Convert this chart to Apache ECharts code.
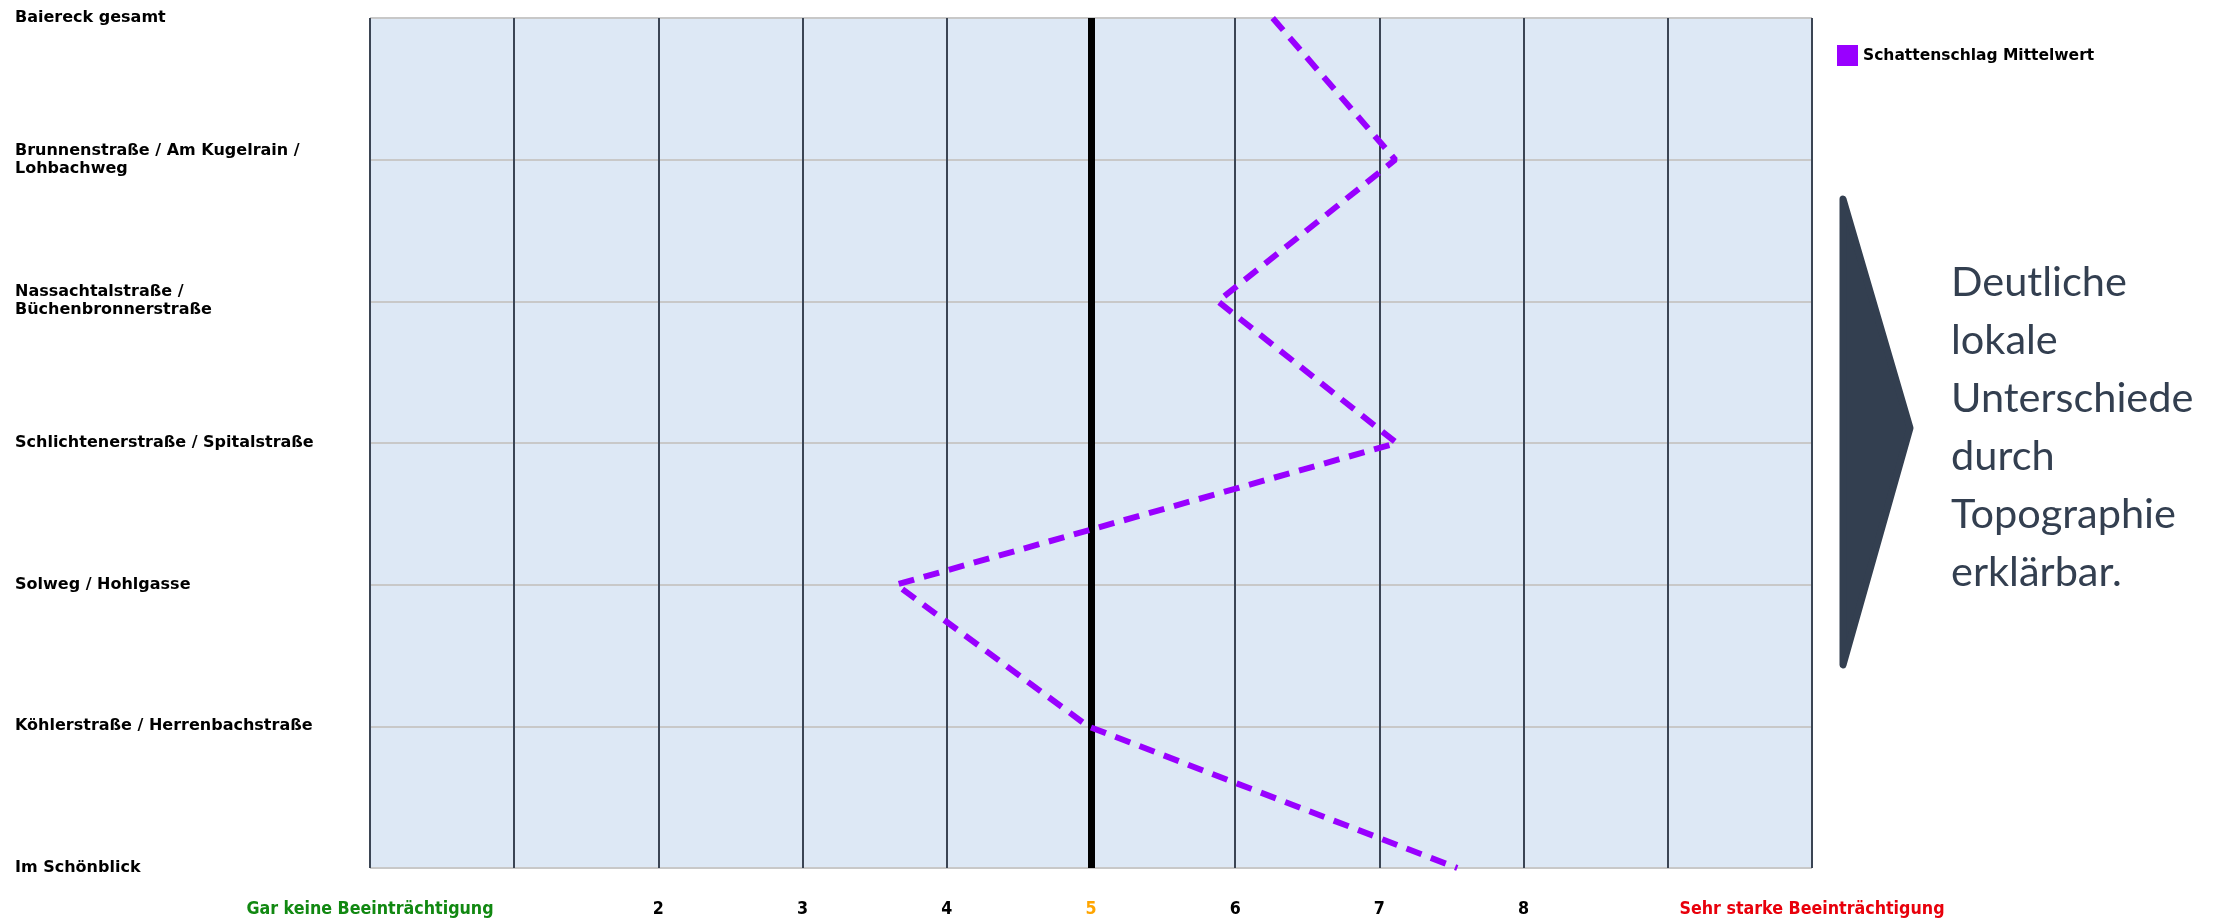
<!DOCTYPE html>
<html>
<head>
<meta charset="utf-8">
<script src="https://cdn.jsdelivr.net/npm/echarts@6/dist/echarts.min.js"></script>
<style>
html,body{margin:0;padding:0;background:#fff;}
#chart{width:2215px;height:919px;}
</style>
</head>
<body>
<div id="chart"></div>
<script>
const categories = [
  'Baiereck gesamt',
  'Brunnenstraße / Am Kugelrain /\nLohbachweg',
  'Nassachtalstraße /\nBüchenbronnerstraße',
  'Schlichtenerstraße / Spitalstraße',
  'Solweg / Hohlgasse',
  'Köhlerstraße / Herrenbachstraße',
  'Im Schönblick'
];
const seriesName = 'Schattenschlag Mittelwert';
const meanValues = [6.26, 7.11, 5.88, 7.12, 3.65, 4.98, 7.54];
const tickLabels = {0: 'Gar keine Beeinträchtigung', 1: '', 2: '2', 3: '3', 4: '4', 5: '5', 6: '6', 7: '7', 8: '8', 9: '', 10: 'Sehr starke Beeinträchtigung'};
const referenceValue = 5;
const noteLines = ['Deutliche', 'lokale', 'Unterschiede', 'durch', 'Topographie', 'erklärbar.'];

const chart = echarts.init(document.getElementById('chart'));
const labelFont = 'DejaVu Sans';
const tickFont = '"Liberation Sans Narrow", "DejaVu Sans Condensed", sans-serif';
const tickSize = 17.7;

chart.setOption({
  backgroundColor: '#ffffff',
  animation: false,
  grid: {left: 370, right: 403, top: 18, bottom: 51, show: true, backgroundColor: '#dde8f5', borderWidth: 0},
  legend: {
    data: [seriesName],
    left: 1832, top: 40,
    icon: 'rect', itemWidth: 21, itemHeight: 21, itemGap: 10,
    textStyle: {fontFamily: labelFont, fontWeight: 'bold', fontSize: 15.5, color: '#000'}
  },
  xAxis: {
    type: 'value', min: 0, max: 10, interval: 1,
    axisLine: {show: false}, axisTick: {show: false},
    splitLine: {show: true, lineStyle: {color: '#3b4554', width: 2}},
    axisLabel: {
      margin: 32,
      fontFamily: tickFont, fontWeight: 'bold', fontSize: tickSize,
      formatter: function (v) {
        const t = tickLabels[v];
        if (!t) return '';
        if (v === 0) return '{g|' + t + '}';
        if (v === 10) return '{r|' + t + '}';
        if (v === referenceValue) return '{o|' + t + '}';
        return '{k|' + t + '}';
      },
      rich: {
        g: {color: '#118811', fontFamily: tickFont, fontWeight: 'bold', fontSize: tickSize},
        r: {color: '#e8000b', fontFamily: tickFont, fontWeight: 'bold', fontSize: tickSize},
        o: {color: '#ffa500', fontFamily: tickFont, fontWeight: 'bold', fontSize: tickSize},
        k: {color: '#000000', fontFamily: tickFont, fontWeight: 'bold', fontSize: tickSize}
      }
    }
  },
  yAxis: {
    type: 'category', data: categories, inverse: true, boundaryGap: false,
    axisLine: {show: false}, axisTick: {show: false},
    splitLine: {show: true, lineStyle: {color: '#c8c8c8', width: 2}},
    axisLabel: {
      align: 'left', margin: 355, interval: 0,
      fontFamily: labelFont, fontWeight: 'bold', fontSize: 16, lineHeight: 18, color: '#000'
    }
  },
  series: [
    {
      name: 'ref', type: 'line', data: [], z: 1,
      markLine: {
        silent: true, symbol: 'none', label: {show: false},
        lineStyle: {color: '#000000', width: 7, type: 'solid'},
        data: [{xAxis: referenceValue}]
      }
    },
    {
      name: seriesName, type: 'line', z: 5,
      data: meanValues.map((v, i) => [v, categories[i]]),
      showSymbol: false, symbol: 'none',
      color: '#9900ff',
      lineStyle: {color: '#9900ff', width: 6, type: [16, 10], cap: 'butt'}
    }
  ],
  graphic: [
    {
      type: 'polygon',
      shape: {points: [[1843, 199], [1910, 428], [1843, 665]]},
      style: {fill: '#333f50', stroke: '#333f50', lineWidth: 7, lineJoin: 'round'}
    },
    {
      type: 'text', left: 1951, top: 254,
      style: {
        text: noteLines.join('\n'),
        font: '41.5px Lato', fill: '#333f50', lineHeight: 58
      }
    }
  ]
});
</script>
</body>
</html>
